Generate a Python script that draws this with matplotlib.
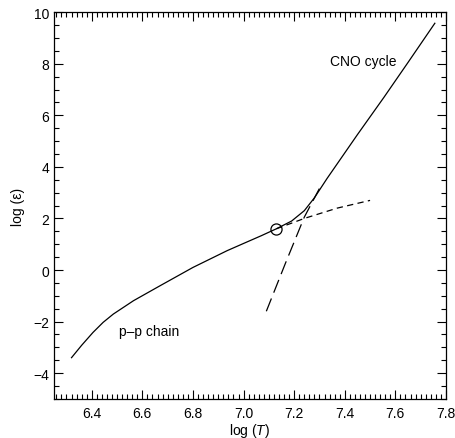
import matplotlib
matplotlib.use("Agg")
import matplotlib.pyplot as plt
from matplotlib.ticker import MultipleLocator

plt.rcParams['font.family'] = ['Liberation Sans', 'DejaVu Sans']
plt.rcParams['mathtext.fontset'] = 'custom'
plt.rcParams['mathtext.rm'] = 'Liberation Sans'
plt.rcParams['mathtext.it'] = 'Liberation Sans:italic'

# total energy generation (solid)
total_logT = [6.32, 6.36, 6.405, 6.445, 6.485, 6.565, 6.67, 6.80, 6.935, 7.00, 7.07, 7.13,
              7.19, 7.24, 7.28, 7.33, 7.45, 7.555, 7.65, 7.756]
total_eps = [-3.4, -2.92, -2.42, -2.03, -1.71, -1.19, -0.61, 0.10, 0.75, 1.03, 1.33, 1.6,
             1.9, 2.3, 2.8, 3.55, 5.25, 6.7, 8.05, 9.57]

# p-p chain continuation (short dashes)
pp_logT = [7.13, 7.24, 7.37, 7.50]
pp_eps = [1.6, 2.0, 2.4, 2.7]

# CNO cycle continuation (long dashes)
cno_logT = [7.09, 7.165, 7.24, 7.31]
cno_eps = [-1.6, 0.25, 2.05, 3.35]

# crossover point
cross_logT = [7.13]
cross_eps = [1.6]

fig = plt.figure(figsize=(4.56, 4.39), dpi=100)
ax = fig.add_axes([0.118, 0.089, 0.860, 0.881])

ax.plot(total_logT, total_eps, color='black', lw=0.9)
ax.plot(pp_logT, pp_eps, color='black', lw=0.9, linestyle=(0, (5, 3.5)))
ax.plot(cno_logT, cno_eps, color='black', lw=0.9, linestyle=(0, (11, 5)))
ax.plot(cross_logT, cross_eps, 'o', mfc='none', mec='black', ms=8, mew=0.9)

ax.text(7.343, 8.1, 'CNO cycle', fontsize=10, va='center', ha='left')
ax.text(6.507, -2.36, 'p\u2013p chain', fontsize=10, va='center', ha='left')

ax.set_xlim(6.25, 7.8)
ax.set_ylim(-5, 10)
ax.xaxis.set_major_locator(MultipleLocator(0.2))
ax.xaxis.set_minor_locator(MultipleLocator(0.02))
ax.yaxis.set_major_locator(MultipleLocator(2))
ax.yaxis.set_minor_locator(MultipleLocator(0.5))
ax.xaxis.set_major_formatter(plt.FuncFormatter(lambda v, p: f'{v:.1f}'))
ax.yaxis.set_major_formatter(plt.FuncFormatter(lambda v, p: f'{v:.0f}'.replace('-', '\u2212')))

ax.tick_params(which='both', direction='in', top=True, right=True, labelsize=10, width=0.8)
ax.tick_params(which='major', length=6.5)
ax.tick_params(which='minor', length=3.5)
ax.tick_params(axis='x', pad=5)
for s in ax.spines.values():
    s.set_linewidth(0.9)

ax.set_xlabel(r'log ($T$)', fontsize=10, labelpad=1)
ax.set_ylabel('log (\u03b5)', fontsize=10, labelpad=6)

fig.savefig('out.png', dpi=100)
